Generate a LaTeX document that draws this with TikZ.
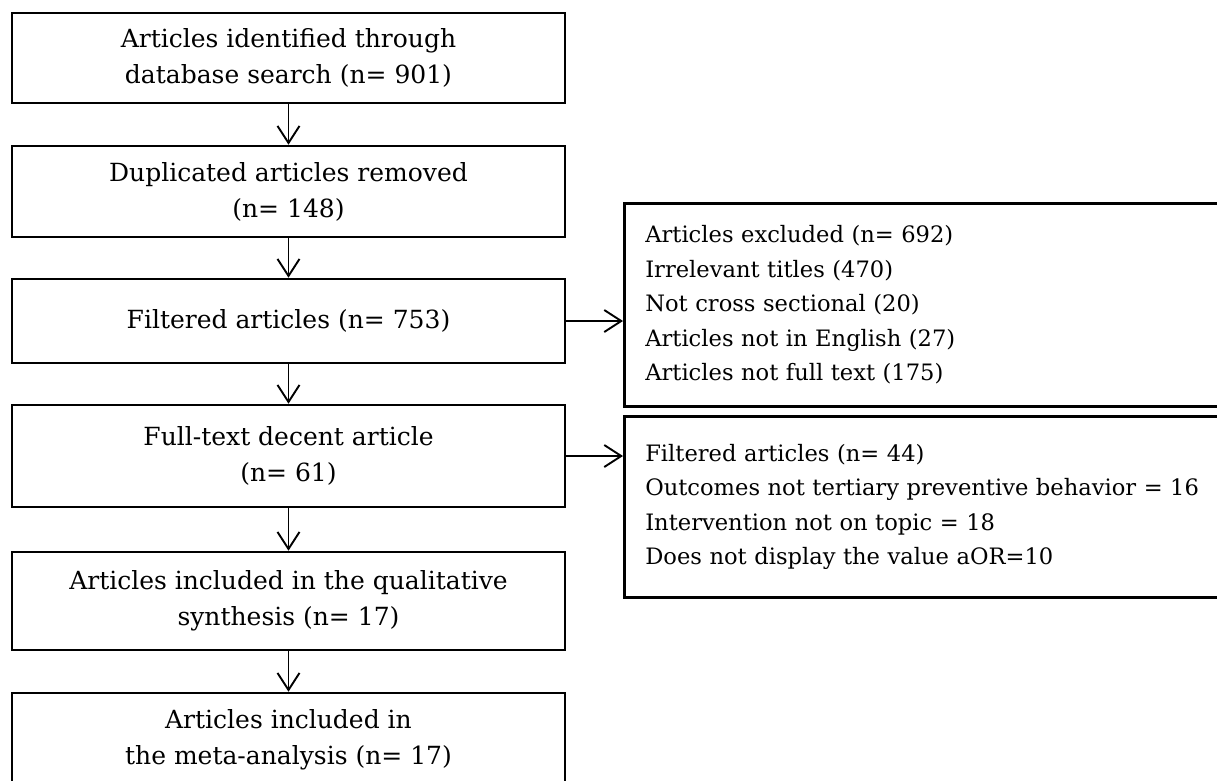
\documentclass[tikz,border=0pt]{standalone}
\usepackage{fontspec}
\setmainfont{DejaVu Serif}
\usetikzlibrary{arrows.meta,positioning,calc}
\definecolor{BoxClr}{rgb}{0,0,0}
\definecolor{ArrowClr}{rgb}{0,0,0}

\begin{document}
\begin{tikzpicture}[x=1pt,y=-1pt,
  mainbox/.style={draw=BoxClr,line width=2.6pt,minimum width=553pt,align=center,
    inner sep=0pt,font=\fontsize{25}{36}\selectfont},
  sidebox/.style={draw=BoxClr,line width=2.6pt,anchor=north west,text width=575pt,
    align=left,inner xsep=21pt,inner ysep=0pt,font=\fontsize{22.6}{34.5}\selectfont},
  flow/.style={draw=ArrowClr,line width=1.9pt,
    -{Straight Barb[length=17pt,width=22pt,line width=1.9pt]}}]
\useasboundingbox (0,0) rectangle (1217,780);

% main column
\node[mainbox,minimum height=90pt] (search) at (288.5,58)
  {Articles identified through\\database search (n= 901)};
\node[mainbox,minimum height=91pt] (dupl) at (288.5,191.5)
  {Duplicated articles removed\\(n= 148)};
\node[mainbox,minimum height=84pt] (filt) at (288.5,321)
  {Filtered articles (n= 753)};
\node[mainbox,minimum height=102pt] (full) at (288.5,456)
  {Full-text decent article\\(n= 61)};
\node[mainbox,minimum height=98pt] (qual) at (288.5,601)
  {Articles included in the qualitative\\synthesis (n= 17)};
\node[mainbox,minimum height=94pt] (meta) at (288.5,740)
  {Articles included in\\the meta-analysis (n= 17)};

% side boxes
\node[sidebox,minimum height=203pt] (excl) at (623,202)
  {Articles excluded (n= 692)\\Irrelevant titles (470)\\Not cross sectional (20)\\
   Articles not in English (27)\\Articles not full text (175)};
\node[sidebox,minimum height=181pt] (filtout) at (623,415)
  {Filtered articles (n= 44)\\Outcomes not tertiary preventive behavior = 16\\
   Intervention not on topic = 18\\Does not display the value aOR=10};

\draw[flow] (search) -- (dupl);
\draw[flow] (dupl) -- (filt);
\draw[flow] (filt) -- (full);
\draw[flow] (full) -- (qual);
\draw[flow] (qual) -- (meta);
\draw[flow] (filt.east) -- (filt.east -| excl.west);
\draw[flow] (full.east) -- (full.east -| filtout.west);

\end{tikzpicture}
\end{document}
